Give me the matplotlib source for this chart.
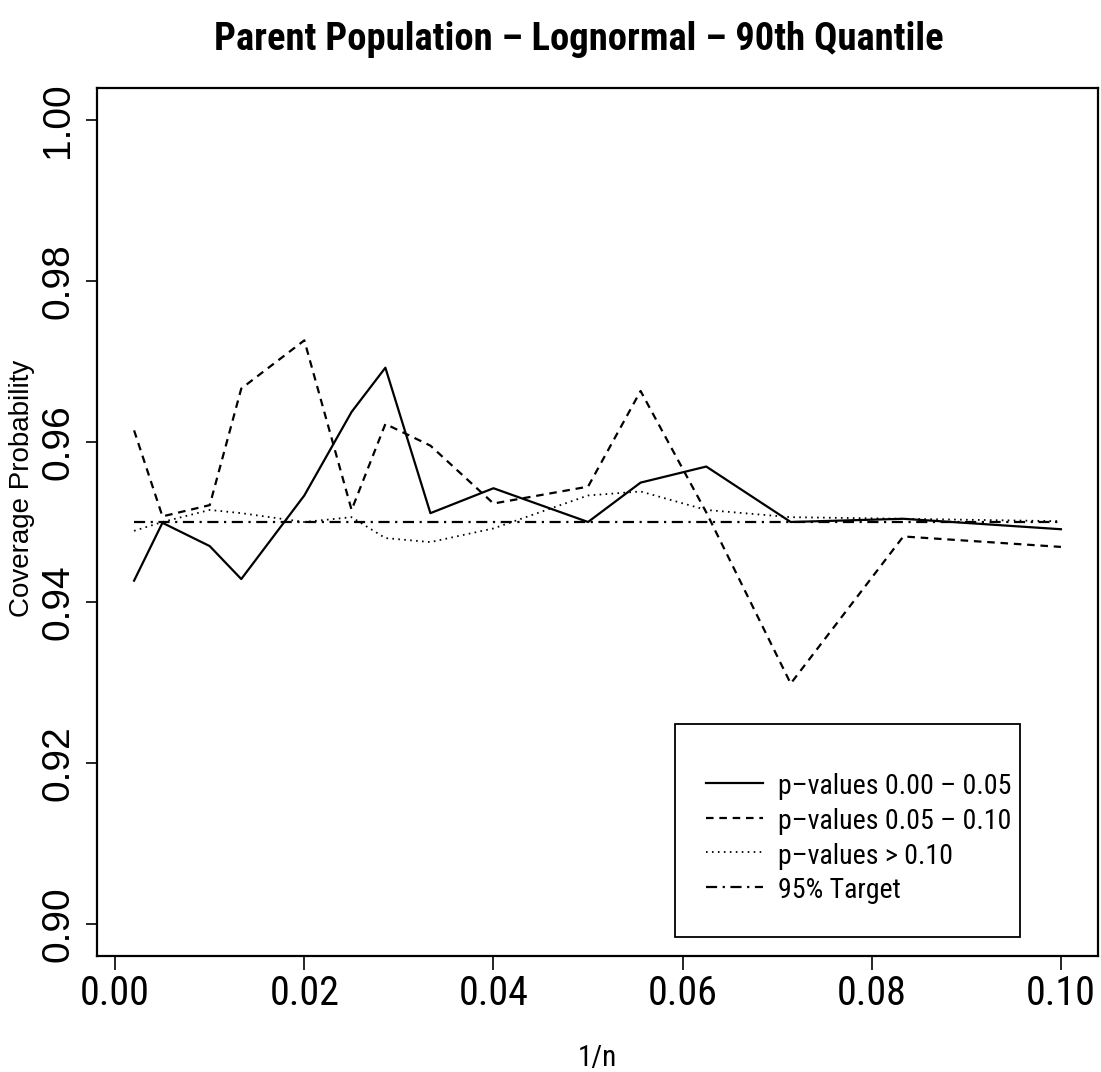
import numpy as np
import matplotlib
matplotlib.use("Agg")
from matplotlib import pyplot as plt
from matplotlib.patches import Rectangle

# sample sizes and the x positions (1/n)
sample_sizes = [500, 200, 100, 75, 50, 40, 35, 30, 25, 20, 18, 16, 14, 12, 10]
inv_n = [1.0 / n for n in sample_sizes]

# coverage probabilities for each p-value group
cov_p000_005 = [0.9427, 0.9499, 0.9470, 0.9429, 0.9533, 0.9637, 0.9692, 0.9511,
                0.9542, 0.9500, 0.9549, 0.9569, 0.9500, 0.9504, 0.9491]
cov_p005_010 = [0.9614, 0.9507, 0.9521, 0.9666, 0.9726, 0.9515, 0.9622, 0.9595,
                0.9523, 0.9544, 0.9663, 0.9512, 0.9299, 0.9482, 0.9469]
cov_p_gt_010 = [0.9489, 0.9500, 0.9515, 0.9511, 0.9500, 0.9506, 0.9480, 0.9475,
                0.9492, 0.9533, 0.9538, 0.9515, 0.9506, 0.9504, 0.9501]
target = 0.95

legend_labels = ["p\u2013values 0.00 \u2013 0.05", "p\u2013values 0.05 \u2013 0.10",
                 "p\u2013values > 0.10", "95% Target"]
x_ticks = [0.00, 0.02, 0.04, 0.06, 0.08, 0.10]
y_ticks = [0.90, 0.92, 0.94, 0.96, 0.98, 1.00]

# first installed family in each list is used
narrow = ["Liberation Sans Narrow", "Arial Narrow", "Nimbus Sans Narrow",
          "Roboto Condensed", "Archivo Narrow", "Sofia Sans Condensed", "DejaVu Sans"]
regular = ["Liberation Sans", "Arimo", "Nimbus Sans", "DejaVu Sans"]
plt.rcParams["font.family"] = regular

fig = plt.figure(figsize=(11.01, 10.72), dpi=100)
ax = fig.add_axes([97 / 1101, 1 - 956 / 1072, 1001 / 1101, 868 / 1072])

ax.plot(inv_n, cov_p000_005, color="black", lw=1.6, linestyle="-", label=legend_labels[0])
ax.plot(inv_n, cov_p005_010, color="black", lw=1.6, linestyle=(0, (3.4, 2.6)), label=legend_labels[1])
ax.plot(inv_n, cov_p_gt_010, color="black", lw=1.3, linestyle=(0, (0.9, 2.4)), label=legend_labels[2])
ax.plot([inv_n[0], inv_n[-1]], [target, target], color="black", lw=1.6,
        linestyle=(0, (5, 2.5, 1, 2.5)), label=legend_labels[3])

# R style 4% padding on x, fixed y range
span = max(inv_n) - min(inv_n)
ax.set_xlim(min(inv_n) - 0.04 * span, max(inv_n) + 0.04 * span)
ax.set_ylim(0.896, 1.004)

ax.set_xticks(x_ticks)
ax.set_xticklabels(["%.2f" % v for v in x_ticks], fontsize=34, family=narrow)
ax.set_yticks(y_ticks)
ax.set_yticklabels(["%.2f" % v for v in y_ticks], fontsize=28, family=regular,
                   rotation=90, va="center")
ax.tick_params(axis="both", direction="out", width=1.2, color="black")
ax.tick_params(axis="x", length=10, pad=3)
ax.tick_params(axis="y", length=8, pad=7)
for s in ax.spines.values():
    s.set_linewidth(1.6)

# legend box drawn separately so it can be sized freely
ax.add_patch(Rectangle((0.577, 0.022), 0.345, 0.245, transform=ax.transAxes,
                       fill=False, edgecolor="black", lw=1.3, zorder=5))
leg = ax.legend(loc="upper left", bbox_to_anchor=(0.586, 0.238), frameon=False,
                prop={"family": narrow, "size": 23}, handlelength=1.8,
                handletextpad=0.45, labelspacing=0.2, borderpad=0.2)

title = fig.text(579 / 1101, 1 - 40 / 1072, "Parent Population \u2013 Lognormal \u2013 90th Quantile",
                 ha="center", va="center", fontsize=33, fontweight="bold", family=narrow)
fig.text(597 / 1101, 1 - 1058 / 1072, "1/n", ha="center", va="center",
         fontsize=21, family=narrow)
fig.text(22 / 1101, 1 - 488 / 1072, "Coverage Probability", ha="center", va="center",
         rotation=90, fontsize=20, family=regular)


def fit_width(texts, width_px):
    # scale font size so the first text spans width_px pixels
    r = fig.canvas.get_renderer()
    w = texts[0].get_window_extent(renderer=r).width
    size = texts[0].get_fontsize() * width_px / w
    for t in texts:
        t.set_fontsize(size)


fig.canvas.draw()
fit_width([title], 730)
fit_width(ax.get_xticklabels(), 70)
fit_width(leg.get_texts(), 234)

fig.savefig("out.png", dpi=100)
